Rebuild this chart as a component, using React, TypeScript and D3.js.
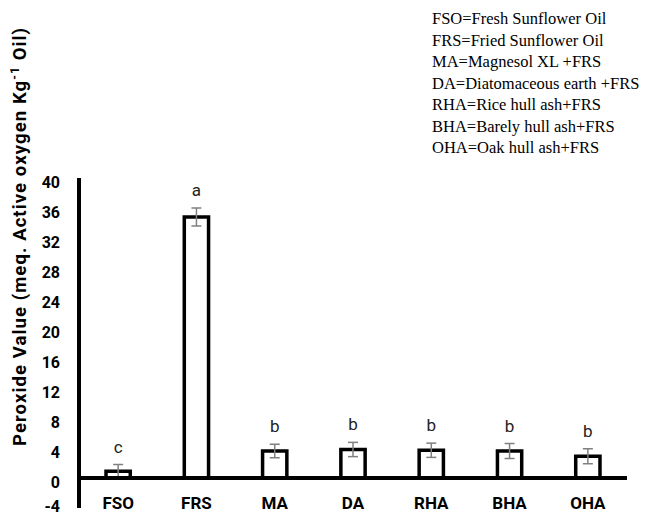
import React from "react";
import * as d3 from "d3";

const categories = ["FSO", "FRS", "MA", "DA", "RHA", "BHA", "OHA"];
const values = [0.9, 34.8, 3.6, 3.8, 3.7, 3.6, 2.9];
const errors = [0.9, 1.2, 0.9, 0.95, 0.95, 1.0, 1.0];
const letters = ["c", "a", "b", "b", "b", "b", "b"];
const yTicks = [-4, 0, 4, 8, 12, 16, 20, 24, 28, 32, 36, 40];
const legendLines = [
  "FSO=Fresh Sunflower Oil",
  "FRS=Fried Sunflower Oil",
  "MA=Magnesol XL +FRS",
  "DA=Diatomaceous earth +FRS",
  "RHA=Rice hull ash+FRS",
  "BHA=Barely hull ash+FRS",
  "OHA=Oak hull ash+FRS",
];

const W = 646;
const H = 515;
const sans = "Roboto, 'Open Sans', sans-serif";

export default function App() {
  // plot area
  const x = d3.scaleBand().domain(categories).range([79, 627]).padding(0);
  const y = d3.scaleLinear().domain([-4, 40]).range([508, 178]);
  const barW = x.bandwidth() * 0.31;
  const capW = 10;

  return (
    <svg
      width={W}
      height={H}
      style={{ position: "absolute", left: 0, top: 0, background: "#fff" }}
    >
      {/* legend */}
      <g fontFamily="'Liberation Serif', 'Times New Roman', serif" fontSize={16.5}>
        {legendLines.map((t, i) => (
          <text key={t} x={432} y={24 + i * 21.5}>
            {t}
          </text>
        ))}
      </g>

      {/* y axis title */}
      <text
        transform="translate(26,237) rotate(-90)"
        textAnchor="middle"
        fontFamily={sans}
        fontWeight="bold"
        fontSize={18.5}
        textLength={418}
        lengthAdjust="spacing"
      >
        Peroxide Value (meq. Active oxygen Kg
        <tspan baselineShift="super" fontSize={12}>-1</tspan> Oil)
      </text>

      {/* y tick labels */}
      <g fontFamily={sans} fontWeight="bold" fontSize={16} textAnchor="end">
        {yTicks.map((t) => (
          <text key={t} x={60} y={Math.min(y(t) + 4, 506)} dominantBaseline="central">
            {t}
          </text>
        ))}
      </g>

      {/* bars */}
      {categories.map((c, i) => {
        const cx = x(c)! + x.bandwidth() / 2;
        const top = y(values[i]);
        const eTop = y(values[i] + errors[i]);
        const eBot = y(values[i] - errors[i]);
        return (
          <g key={c}>
            <rect
              x={cx - barW / 2}
              y={top}
              width={barW}
              height={y(0) - top}
              fill="#fff"
              stroke="#000"
              strokeWidth={3.5}
            />
            <g stroke="#808080" strokeWidth={1.5}>
              <line x1={cx} x2={cx} y1={eTop} y2={eBot} />
              <line x1={cx - capW / 2} x2={cx + capW / 2} y1={eTop} y2={eTop} />
              <line x1={cx - capW / 2} x2={cx + capW / 2} y1={eBot} y2={eBot} />
            </g>
            <text
              x={cx}
              y={eTop - 12}
              textAnchor="middle"
              fontFamily={sans}
              fontSize={17}
              fill="#222"
            >
              {letters[i]}
            </text>
            <text
              x={cx}
              y={503}
              textAnchor="middle"
              dominantBaseline="central"
              fontFamily={sans}
              fontWeight="bold"
              fontSize={17}
            >
              {c}
            </text>
          </g>
        );
      })}

      {/* axes */}
      <line x1={79} x2={79} y1={y(40)} y2={y(-4)} stroke="#000" strokeWidth={4} />
      <line x1={79} x2={627} y1={y(0)} y2={y(0)} stroke="#000" strokeWidth={4} />
    </svg>
  );
}
